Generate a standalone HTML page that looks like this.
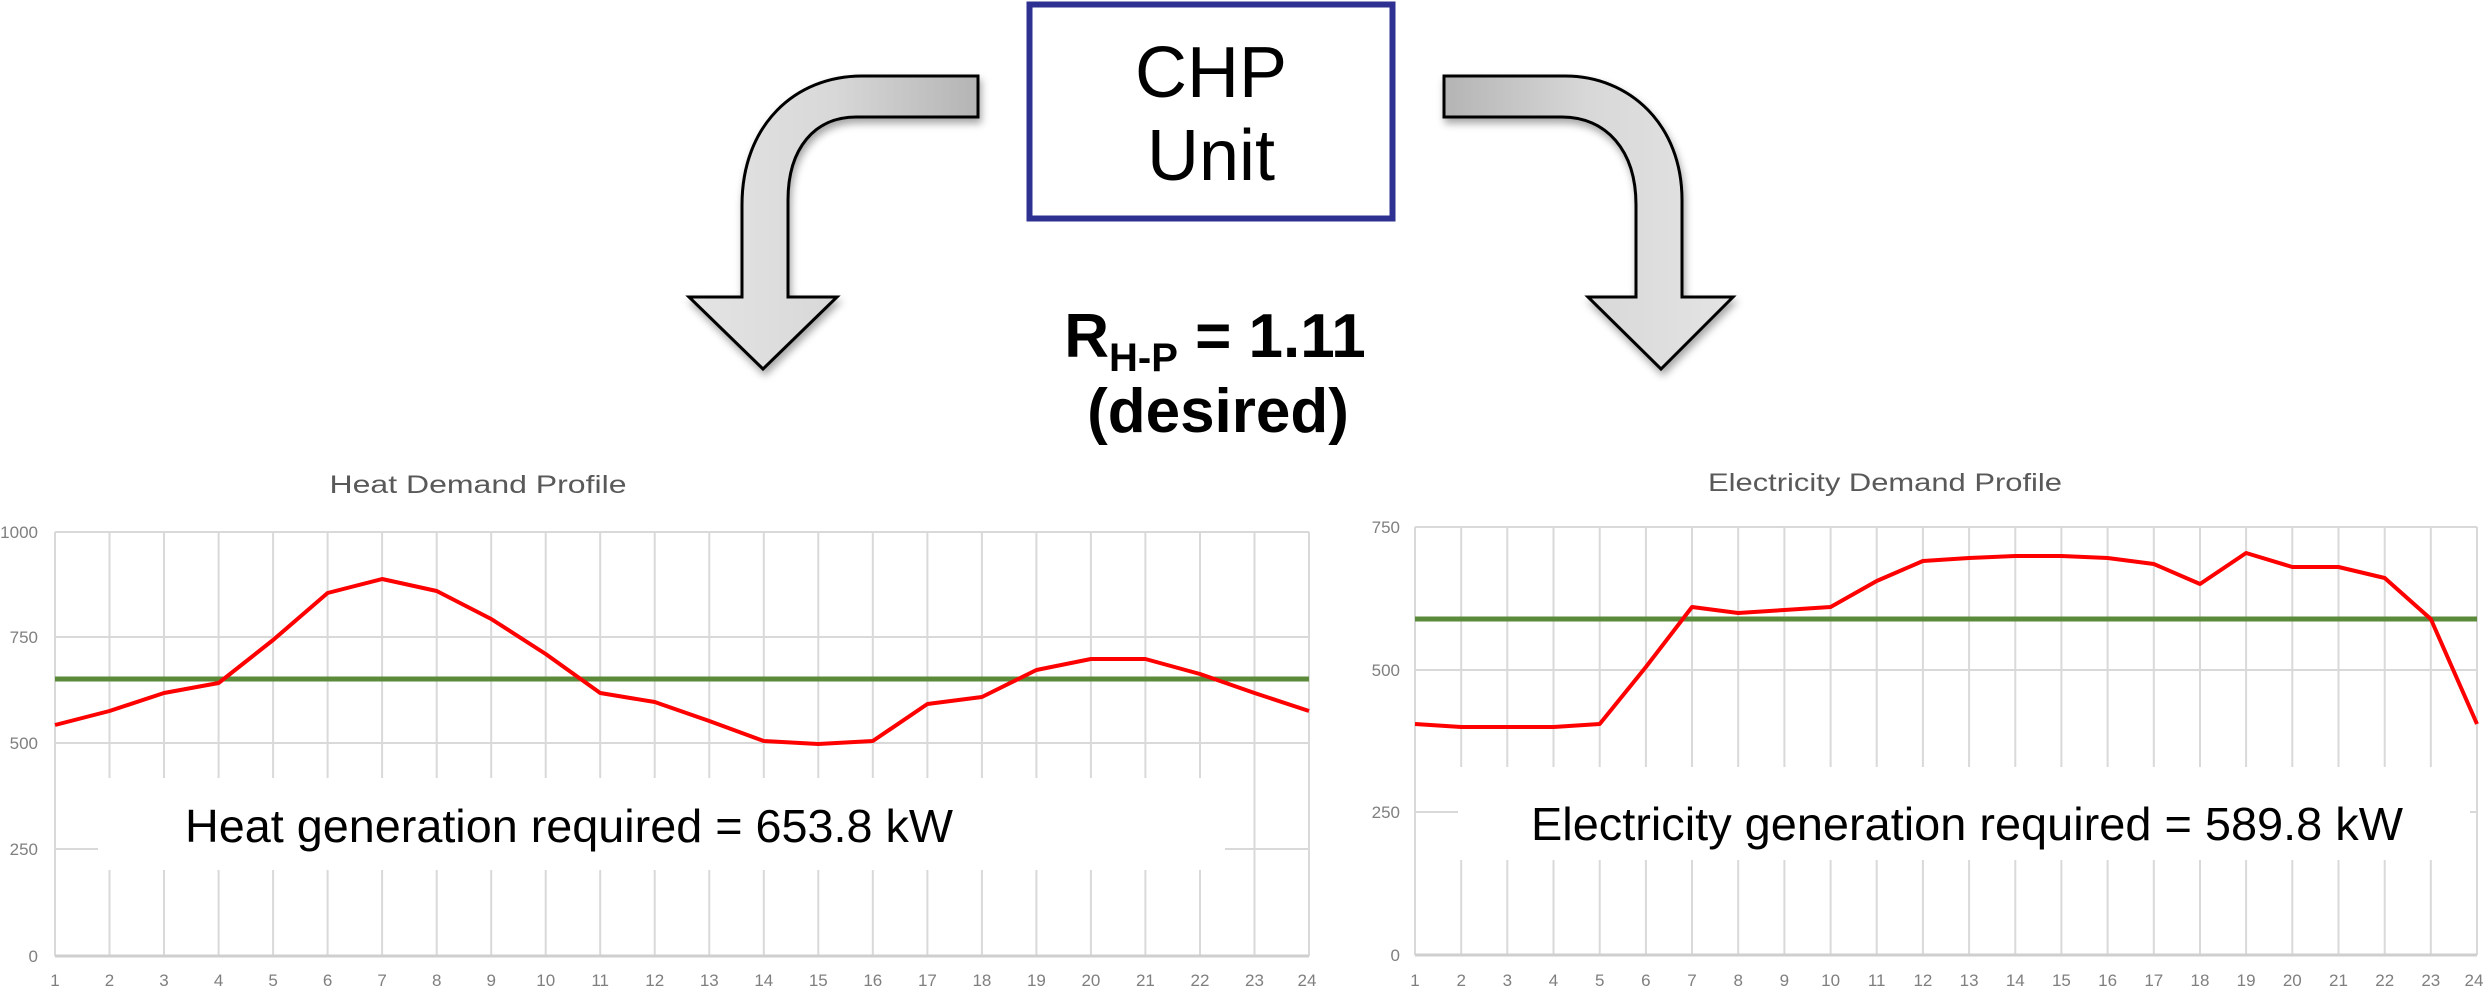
<!DOCTYPE html>
<html><head><meta charset="utf-8"><style>
html,body{margin:0;padding:0;background:#fff;}
svg{display:block;}
</style></head><body>
<svg width="2485" height="987" viewBox="0 0 2485 987" xmlns="http://www.w3.org/2000/svg" font-family="'Liberation Sans', sans-serif">
<defs>
<linearGradient id="gl" x1="1" y1="0" x2="0" y2="0"><stop offset="0" stop-color="#b4b4b4"/><stop offset="0.5" stop-color="#d8d8d8"/><stop offset="1" stop-color="#e4e4e4"/></linearGradient>
<linearGradient id="gr" x1="0" y1="0" x2="1" y2="0"><stop offset="0" stop-color="#b4b4b4"/><stop offset="0.5" stop-color="#d8d8d8"/><stop offset="1" stop-color="#e4e4e4"/></linearGradient>
<filter id="sh" x="-20%" y="-20%" width="140%" height="140%"><feDropShadow dx="2" dy="5" stdDeviation="4" flood-color="#000" flood-opacity="0.35"/></filter>
</defs>
<rect width="2485" height="987" fill="#fff"/>

<!-- CHP box -->
<rect x="1029.5" y="4.5" width="363" height="214" fill="#fff" stroke="#2e3192" stroke-width="6"/>
<text x="1211" y="97" font-size="72" text-anchor="middle" fill="#000">CHP</text>
<text x="1211" y="180" font-size="72" text-anchor="middle" fill="#000">Unit</text>

<!-- ratio -->
<text x="1215" y="357" font-size="62" font-weight="bold" text-anchor="middle" fill="#000">R<tspan font-size="40" dy="14">H-P</tspan><tspan dy="-14"> = 1.11</tspan></text>
<text x="1218" y="432" font-size="62" font-weight="bold" text-anchor="middle" fill="#000">(desired)</text>

<!-- left arrow -->
<path d="M978,76 L862,76 C795,76 742,125 742,205 L742,297 L689,297 L763,369 L837,297 L788,297 L788,200 C788,148 815,117 856,117 L978,117 Z" fill="url(#gl)" stroke="#000" stroke-width="3" stroke-linejoin="miter" filter="url(#sh)"/>
<!-- right arrow -->
<path d="M1444,76 L1565,76 C1630,76 1682,125 1682,200 L1682,297 L1733,297 L1661,369 L1588,297 L1636,297 L1636,205 C1636,150 1606,117 1562,117 L1444,117 Z" fill="url(#gr)" stroke="#000" stroke-width="3" stroke-linejoin="miter" filter="url(#sh)"/>

<!-- LEFT CHART -->
<text x="478" y="493" font-size="25" fill="#595959" text-anchor="middle" textLength="297" lengthAdjust="spacingAndGlyphs">Heat Demand Profile</text>
<g stroke="#d9d9d9" stroke-width="2" fill="none">
<path d="M55,532H1309M55,637H1309M55,743H1309M55,849H1309"/>
<path d="M55,532V956M109.5,532V956M164,532V956M218.6,532V956M273.1,532V956M327.6,532V956M382.1,532V956M436.7,532V956M491.2,532V956M545.7,532V956M600.2,532V956M654.7,532V956M709.3,532V956M763.8,532V956M818.3,532V956M872.8,532V956M927.4,532V956M981.9,532V956M1036.4,532V956M1090.9,532V956M1145.4,532V956M1200,532V956M1254.5,532V956M1309,532V956"/>
</g>
<path d="M55,956H1309" stroke="#cfcfcf" stroke-width="3"/>
<g font-size="17" fill="#7f7f7f" text-anchor="end">
<text x="38" y="538">1000</text><text x="38" y="643">750</text><text x="38" y="749">500</text><text x="38" y="855">250</text><text x="38" y="962">0</text>
</g>
<g font-size="17" fill="#7f7f7f" text-anchor="middle">
<text x="55" y="986">1</text><text x="109.5" y="986">2</text><text x="164" y="986">3</text><text x="218.6" y="986">4</text><text x="273.1" y="986">5</text><text x="327.6" y="986">6</text><text x="382.1" y="986">7</text><text x="436.7" y="986">8</text><text x="491.2" y="986">9</text><text x="545.7" y="986">10</text><text x="600.2" y="986">11</text><text x="654.7" y="986">12</text><text x="709.3" y="986">13</text><text x="763.8" y="986">14</text><text x="818.3" y="986">15</text><text x="872.8" y="986">16</text><text x="927.4" y="986">17</text><text x="981.9" y="986">18</text><text x="1036.4" y="986">19</text><text x="1090.9" y="986">20</text><text x="1145.4" y="986">21</text><text x="1200" y="986">22</text><text x="1254.5" y="986">23</text><text x="1307" y="986">24</text>
</g>
<path d="M55,679H1309" stroke="#5a8a3a" stroke-width="5"/>
<polyline fill="none" stroke="#ff0000" stroke-width="4" stroke-linejoin="round" points="55,725 109.5,711 164,693 218.6,683 273.1,640 327.6,593 382.1,579 436.7,591 491.2,619 545.7,654 600.2,693 654.7,702 709.3,721 763.8,741 818.3,744 872.8,741 927.4,704 981.9,697 1036.4,670 1090.9,659 1145.4,659 1200,674 1254.5,693 1309,711"/>
<rect x="98" y="778" width="1127" height="92" fill="#fff"/>
<text x="185" y="842" font-size="46" fill="#000" textLength="768" lengthAdjust="spacingAndGlyphs">Heat generation required = 653.8 kW</text>

<!-- RIGHT CHART -->
<text x="1885" y="491" font-size="25" fill="#595959" text-anchor="middle" textLength="354" lengthAdjust="spacingAndGlyphs">Electricity Demand Profile</text>
<g stroke="#d9d9d9" stroke-width="2" fill="none">
<path d="M1415,527H2477M1415,670H2477M1415,812H2477"/>
<path d="M1415,527V955M1461.2,527V955M1507.3,527V955M1553.5,527V955M1599.7,527V955M1645.9,527V955M1692,527V955M1738.2,527V955M1784.4,527V955M1830.6,527V955M1876.7,527V955M1922.9,527V955M1969.1,527V955M2015.3,527V955M2061.4,527V955M2107.6,527V955M2153.8,527V955M2200,527V955M2246.1,527V955M2292.3,527V955M2338.5,527V955M2384.7,527V955M2430.8,527V955M2477,527V955"/>
</g>
<path d="M1415,955H2477" stroke="#cfcfcf" stroke-width="3"/>
<g font-size="17" fill="#7f7f7f" text-anchor="end">
<text x="1400" y="533">750</text><text x="1400" y="676">500</text><text x="1400" y="818">250</text><text x="1400" y="961">0</text>
</g>
<g font-size="17" fill="#7f7f7f" text-anchor="middle">
<text x="1415" y="986">1</text><text x="1461.2" y="986">2</text><text x="1507.3" y="986">3</text><text x="1553.5" y="986">4</text><text x="1599.7" y="986">5</text><text x="1645.9" y="986">6</text><text x="1692" y="986">7</text><text x="1738.2" y="986">8</text><text x="1784.4" y="986">9</text><text x="1830.6" y="986">10</text><text x="1876.7" y="986">11</text><text x="1922.9" y="986">12</text><text x="1969.1" y="986">13</text><text x="2015.3" y="986">14</text><text x="2061.4" y="986">15</text><text x="2107.6" y="986">16</text><text x="2153.8" y="986">17</text><text x="2200" y="986">18</text><text x="2246.1" y="986">19</text><text x="2292.3" y="986">20</text><text x="2338.5" y="986">21</text><text x="2384.7" y="986">22</text><text x="2430.8" y="986">23</text><text x="2474" y="986">24</text>
</g>
<path d="M1415,619H2477" stroke="#5a8a3a" stroke-width="5"/>
<polyline fill="none" stroke="#ff0000" stroke-width="4" stroke-linejoin="round" points="1415,724 1461.2,727 1507.3,727 1553.5,727 1599.7,724 1645.9,667 1692,607 1738.2,613 1784.4,610 1830.6,607 1876.7,581 1922.9,561 1969.1,558 2015.3,556 2061.4,556 2107.6,558 2153.8,564 2200,584 2246.1,553 2292.3,567 2338.5,567 2384.7,578 2430.8,619 2477,724"/>
<rect x="1458" y="767" width="1012" height="93" fill="#fff"/>
<text x="1531" y="840" font-size="46" fill="#000" textLength="872" lengthAdjust="spacingAndGlyphs">Electricity generation required = 589.8 kW</text>
</svg>
</body></html>
